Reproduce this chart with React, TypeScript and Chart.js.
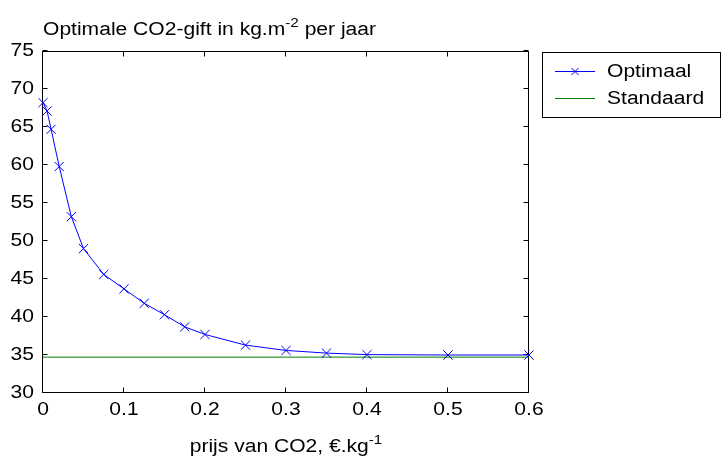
import { useEffect, useRef } from 'react';
import { Chart, registerables } from 'chart.js';

Chart.register(...registerables);

// ---- data ----
const prices = [0, 0.005, 0.01, 0.02, 0.035, 0.05, 0.075, 0.1, 0.125, 0.15, 0.175, 0.2, 0.25, 0.3, 0.35, 0.4, 0.5, 0.6];
const optimaal = [68.2, 67.1, 64.7, 59.8, 53.2, 49.0, 45.6, 43.7, 41.8, 40.3, 38.7, 37.7, 36.3, 35.6, 35.25, 35.05, 35.0, 35.0];
const standaardPrices = [0, 0.6];
const standaardValues = [34.72, 34.72];
const xTicks = [0, 0.1, 0.2, 0.3, 0.4, 0.5, 0.6];
const xTickLabels = ['0', '0.1', '0.2', '0.3', '0.4', '0.5', '0.6'];
const yTicks = [30, 35, 40, 45, 50, 55, 60, 65, 70, 75];
const yTickLabels = ['30', '35', '40', '45', '50', '55', '60', '65', '70', '75'];
const seriesNames = ['Optimaal', 'Standaard'];
const titleParts = [
  { t: 'Optimale CO2-gift in kg.m', sup: false },
  { t: '-2', sup: true },
  { t: ' per jaar', sup: false },
];
const xTitleParts = [
  { t: 'prijs van CO2, \u20AC.kg', sup: false },
  { t: '-1', sup: true },
];

const FONT = "'Liberation Sans', Arial, sans-serif";
const FS = 18;
const SX = 1.17;

type Part = { t: string; sup: boolean };

function drawRich(ctx: CanvasRenderingContext2D, parts: Part[], x: number, y: number, align: 'left' | 'center') {
  ctx.save();
  ctx.textBaseline = 'alphabetic';
  ctx.textAlign = 'left';
  let total = 0;
  for (const p of parts) {
    ctx.font = `${p.sup ? Math.round(FS * 0.72) : FS}px ${FONT}`;
    total += ctx.measureText(p.t).width;
  }
  let cx = align === 'center' ? x - (total * SX) / 2 : x;
  for (const p of parts) {
    ctx.font = `${p.sup ? Math.round(FS * 0.72) : FS}px ${FONT}`;
    const w = ctx.measureText(p.t).width;
    ctx.save();
    ctx.translate(cx, p.sup ? y - 8 : y);
    ctx.scale(SX, 1);
    ctx.fillText(p.t, 0, 0);
    ctx.restore();
    cx += w * SX;
  }
  ctx.restore();
}

function drawText(ctx: CanvasRenderingContext2D, t: string, x: number, y: number, align: CanvasTextAlign) {
  ctx.save();
  ctx.font = `${FS}px ${FONT}`;
  ctx.textAlign = align;
  ctx.textBaseline = 'middle';
  ctx.translate(x, y);
  ctx.scale(SX, 1);
  ctx.fillText(t, 0, 0);
  ctx.restore();
}

const framePlugin = {
  id: 'matlabFrame',
  beforeDatasetsDraw(chart: any) {
    const { ctx, chartArea } = chart;
    const xs = chart.scales.x;
    const ys = chart.scales.y;
    const l = Math.round(chartArea.left) - 0.5;
    const r = Math.round(chartArea.right) - 0.5;
    const t = Math.round(chartArea.top) + 0.5;
    const b = Math.round(chartArea.bottom) - 0.5;
    ctx.save();
    ctx.strokeStyle = '#000';
    ctx.lineWidth = 1;
    ctx.beginPath();
    for (const v of xTicks) {
      const px = Math.round(xs.getPixelForValue(v)) - 0.5;
      ctx.moveTo(px, b);
      ctx.lineTo(px, b - 5);
      ctx.moveTo(px, t);
      ctx.lineTo(px, t + 5);
    }
    for (const v of yTicks) {
      const py = Math.round(ys.getPixelForValue(v)) - 0.5;
      ctx.moveTo(l, py);
      ctx.lineTo(l + 5, py);
      ctx.moveTo(r, py);
      ctx.lineTo(r - 5, py);
    }
    ctx.stroke();
    ctx.beginPath();
    ctx.rect(l, t, r - l, b - t);
    ctx.stroke();
    ctx.restore();
  },
  afterDraw(chart: any) {
    const { ctx, chartArea } = chart;
    const xs = chart.scales.x;
    const ys = chart.scales.y;
    ctx.save();
    ctx.fillStyle = '#000';
    xTicks.forEach((v, i) => {
      drawText(ctx, xTickLabels[i], xs.getPixelForValue(v), chartArea.bottom + 17, 'center');
    });
    yTicks.forEach((v, i) => {
      drawText(ctx, yTickLabels[i], chartArea.left - 9, ys.getPixelForValue(v), 'right');
    });
    drawRich(ctx, titleParts, chartArea.left, 35, 'left');
    drawRich(ctx, xTitleParts, (chartArea.left + chartArea.right) / 2, 452, 'center');

    // legend box
    const bx = 542.5, by = 52.5, bw = 178, bh = 65;
    ctx.fillStyle = '#fff';
    ctx.fillRect(bx, by, bw, bh);
    ctx.strokeStyle = '#000';
    ctx.lineWidth = 1;
    ctx.strokeRect(bx, by, bw, bh);
    const rows = [71, 98];
    chart.data.datasets.forEach((ds: any, i: number) => {
      const y = rows[i];
      ctx.strokeStyle = ds.borderColor;
      ctx.lineWidth = 1;
      ctx.beginPath();
      ctx.moveTo(555, y + 0.5);
      ctx.lineTo(595, y + 0.5);
      ctx.stroke();
      if (ds.pointRadius > 0) {
        const r = 3.5;
        ctx.beginPath();
        ctx.moveTo(575 - r, y + 0.5 - r);
        ctx.lineTo(575 + r, y + 0.5 + r);
        ctx.moveTo(575 + r, y + 0.5 - r);
        ctx.lineTo(575 - r, y + 0.5 + r);
        ctx.stroke();
      }
      ctx.fillStyle = '#000';
      ctx.save();
      ctx.font = `${FS}px ${FONT}`;
      ctx.textAlign = 'left';
      ctx.textBaseline = 'middle';
      ctx.translate(607, y + 1);
      ctx.scale(SX, 1);
      ctx.fillText(seriesNames[i], 0, 0);
      ctx.restore();
    });
    ctx.restore();
  },
};

export default function App() {
  const ref = useRef<HTMLCanvasElement | null>(null);
  useEffect(() => {
    document.body.style.margin = '0';
    const canvas = ref.current;
    if (!canvas) return;
    const chart = new Chart(canvas, {
      type: 'scatter',
      data: {
        datasets: [
          {
            label: seriesNames[0],
            data: prices.map((x, i) => ({ x, y: optimaal[i] })),
            showLine: true,
            borderColor: '#0000ff',
            backgroundColor: '#0000ff',
            borderWidth: 1,
            pointStyle: 'crossRot',
            pointRadius: 6.5,
            pointBorderWidth: 1,
            pointBorderColor: '#0000ff',
            clip: false as any,
          },
          {
            label: seriesNames[1],
            data: standaardPrices.map((x, i) => ({ x, y: standaardValues[i] })),
            showLine: true,
            borderColor: '#008000',
            backgroundColor: '#008000',
            borderWidth: 1,
            pointRadius: 0,
          },
        ],
      },
      options: {
        animation: false,
        responsive: false,
        devicePixelRatio: 1,
        layout: { padding: { top: 51, right: 193, left: 0, bottom: 0 } },
        plugins: { legend: { display: false }, tooltip: { enabled: false }, title: { display: false } },
        scales: {
          x: {
            type: 'linear',
            min: 0,
            max: 0.6,
            ticks: { display: false },
            grid: { display: false, drawTicks: false },
            border: { display: false },
            afterFit: (s: any) => { s.height = 66; },
          },
          y: {
            type: 'linear',
            min: 30,
            max: 75,
            ticks: { display: false },
            grid: { display: false, drawTicks: false },
            border: { display: false },
            afterFit: (s: any) => { s.width = 43; },
          },
        },
      },
      plugins: [framePlugin],
    });
    return () => chart.destroy();
  }, []);
  return (
    <div style={{ position: 'absolute', left: 0, top: 0, width: 722, height: 459, background: '#fff' }}>
      <canvas ref={ref} width={722} height={459} />
    </div>
  );
}
